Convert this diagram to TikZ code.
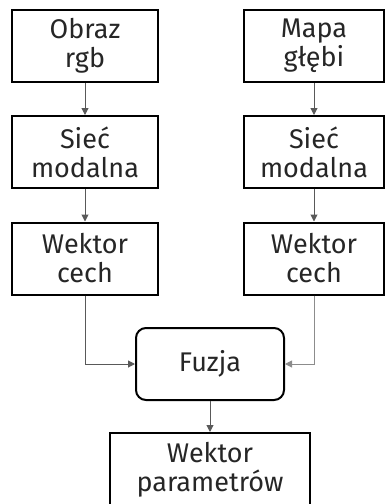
\documentclass[tikz,border=0pt]{standalone}
\usepackage{fontspec}
\setmainfont{Fira Sans}
\usetikzlibrary{arrows.meta}
\newcommand{\FB}{\fontsize{27}{29}\selectfont}

\begin{document}
\begin{tikzpicture}[x=1pt,y=1pt]
\tikzstyle{blok}=[draw=black,line width=2pt,fill=white,text=black!85,font=\FB,align=center,minimum width=146pt,minimum height=72pt,inner sep=0pt]
\tikzstyle{fuzja}=[blok,rounded corners=10pt,minimum width=148pt]
\tikzstyle{strz}=[black!65,line width=1pt,-{Triangle[length=7pt,width=7pt]}]

\useasboundingbox (0,0) rectangle (385,-504);

% lewa kolumna
\node[blok] (obraz)  at (85,-46)  {Obraz\\rgb};
\node[blok] (siecL)  at (85,-152) {Sieć\\modalna};
\node[blok] (cechL)  at (85,-258.5) {Wektor\\cech};

% prawa kolumna
\node[blok,minimum width=140pt] (mapa)  at (314,-46)  {Mapa\\głębi};
\node[blok,minimum width=140pt] (siecP) at (314,-152) {Sieć\\modalna};
\node[blok,minimum width=140pt] (cechP) at (314,-258.5) {Wektor\\cech};

% fuzja i wynik
\node[fuzja] (fuzja) at (210,-364) {Fuzja};
\node[blok,minimum width=200pt,minimum height=74pt] (param) at (210,-470) {Wektor\\parametrów};

\draw[strz] (obraz) -- (siecL);
\draw[strz] (siecL) -- (cechL);
\draw[strz] (mapa) -- (siecP);
\draw[strz] (siecP) -- (cechP);
\draw[strz] (cechL.south) |- (fuzja.west);
\draw[strz,black!45] (cechP.south) |- (fuzja.east);
\draw[strz] (fuzja) -- (param);
\end{tikzpicture}
\end{document}
